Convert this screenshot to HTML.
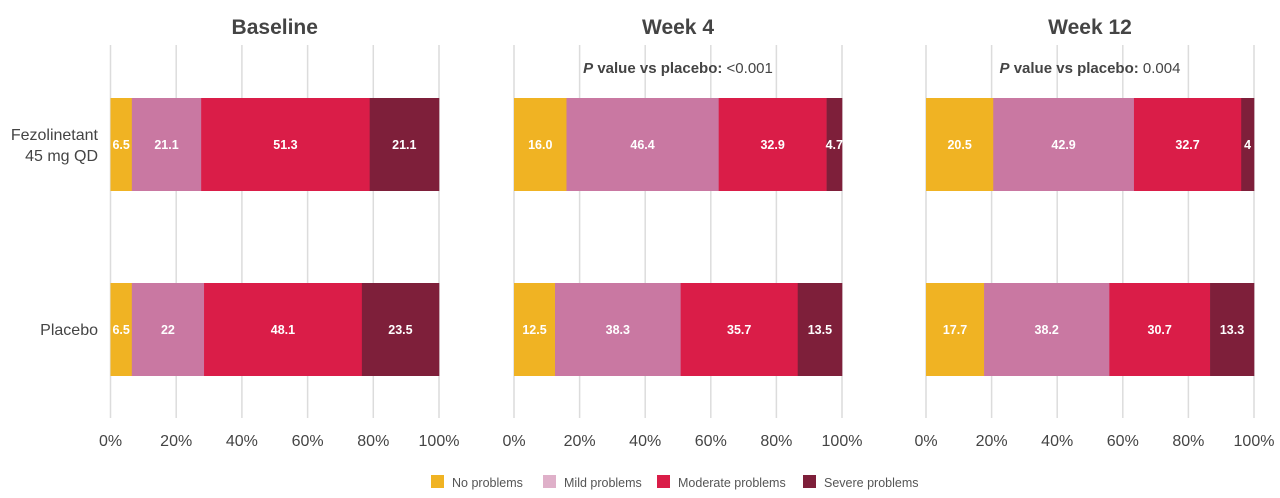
<!DOCTYPE html>
<html><head><meta charset="utf-8"><style>
html,body{margin:0;padding:0;background:#fff;}
svg{display:block;font-family:"Liberation Sans",Arial,sans-serif;}
</style></head><body>
<svg id="c" width="1280" height="498" xmlns="http://www.w3.org/2000/svg"></svg>
<script>
const s=document.getElementById('c');let h='';
const cols=['#f0b323','#c978a2','#da1d48','#7e1f3a'];
const panels=[
 {x0:110.5,x1:439,t:'Baseline',p:null,d:[[6.5,21.1,51.3,21.1],[6.5,22,48.1,23.5]],l:[['6.5','21.1','51.3','21.1'],['6.5','22','48.1','23.5']]},
 {x0:514,x1:842,t:'Week 4',p:'<0.001',d:[[16.0,46.4,32.9,4.7],[12.5,38.3,35.7,13.5]],l:[['16.0','46.4','32.9','4.7'],['12.5','38.3','35.7','13.5']]},
 {x0:926,x1:1254,t:'Week 12',p:'0.004',d:[[20.5,42.9,32.7,3.9],[17.7,38.2,30.7,13.4]],l:[['20.5','42.9','32.7','4'],['17.7','38.2','30.7','13.3']]}
];
const ys=[[98,191],[283,376]];
for(const P of panels){
 const w=P.x1-P.x0;
 for(let i=0;i<=5;i++){const x=P.x0+w*i/5;
  h+=`<line x1="${x}" y1="45" x2="${x}" y2="418" stroke="#dcdcdc" stroke-width="1.5"/>`;
  h+=`<text x="${x}" y="446" font-size="16" fill="#444" text-anchor="middle">${i*20}%</text>`;}
 h+=`<text x="${(P.x0+P.x1)/2}" y="34" font-size="21" font-weight="bold" fill="#444" text-anchor="middle">${P.t}</text>`;
 if(P.p)h+=`<text x="${(P.x0+P.x1)/2}" y="73" font-size="15" fill="#444" text-anchor="middle"><tspan font-weight="bold" font-style="italic">P</tspan><tspan font-weight="bold"> value vs placebo: </tspan>${P.p.replace('<','&lt;')}</text>`;
 P.d.forEach((row,r)=>{const sum=row.reduce((a,b)=>a+b,0);let x=P.x0;
  row.forEach((v,k)=>{const bw=w*v/sum;
   h+=`<rect x="${x}" y="${ys[r][0]}" width="${bw+0.3}" height="${ys[r][1]-ys[r][0]}" fill="${cols[k]}"/>`;
   h+=`<text x="${x+bw/2}" y="${(ys[r][0]+ys[r][1])/2+4.5}" font-size="12.5" font-weight="bold" fill="#fff" text-anchor="middle">${P.l[r][k]}</text>`;
   x+=bw;});});
}
h+=`<text x="98" y="140" font-size="16" fill="#444" text-anchor="end">Fezolinetant</text>`;
h+=`<text x="98" y="161" font-size="16" fill="#444" text-anchor="end">45 mg QD</text>`;
h+=`<text x="98" y="335" font-size="16" fill="#444" text-anchor="end">Placebo</text>`;
const lg=[[431,'#f0b323','No problems'],[543,'#dfb0c9','Mild problems'],[657,'#da1d48','Moderate problems'],[803,'#7e1f3a','Severe problems']];
for(const [x,c,t] of lg){h+=`<rect x="${x}" y="475" width="13" height="13" fill="${c}"/><text x="${x+21}" y="487" font-size="12.5" fill="#555">${t}</text>`;}
s.innerHTML=h;
</script>
</body></html>
